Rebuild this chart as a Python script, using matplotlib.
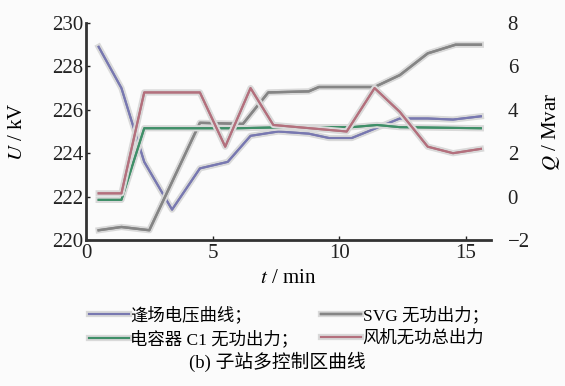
import matplotlib
matplotlib.use("Agg")
import matplotlib.pyplot as plt
import matplotlib.patheffects as pe

# ---- data ----
t_volt = [0.5, 1.4, 2.3, 3.4, 4.5, 5.6, 6.5, 7.6, 8.8, 9.6, 10.5, 12.4, 13.5, 14.5, 15.6]
u_volt = [228.9, 227.0, 223.6, 221.4, 223.3, 223.6, 224.8, 225.0, 224.9, 224.7, 224.7, 225.6, 225.6, 225.55, 225.7]

t_svg = [0.5, 1.4, 2.5, 4.5, 6.2, 7.2, 8.8, 9.2, 11.4, 12.4, 13.5, 14.6, 15.6]
q_svg = [-1.55, -1.4, -1.55, 3.4, 3.35, 4.8, 4.85, 5.05, 5.05, 5.6, 6.6, 7.0, 7.0]

t_c1 = [0.5, 1.4, 2.3, 6.0, 8.0, 10.5, 11.5, 12.4, 15.6]
q_c1 = [-0.15, -0.15, 3.15, 3.15, 3.2, 3.2, 3.3, 3.2, 3.15]

t_wind = [0.5, 1.4, 2.3, 4.5, 5.5, 6.5, 7.4, 10.3, 11.4, 12.4, 13.5, 14.5, 15.6]
q_wind = [0.15, 0.15, 4.8, 4.8, 2.3, 5.0, 3.3, 3.0, 5.0, 3.9, 2.3, 2.0, 2.2]

labels = ["逢场电压曲线；", "SVG 无功出力；", "电容器 C1 无功出力；", "风机无功总出力"]
x_ticks = [0, 5, 10, 15]
u_ticks = [220, 222, 224, 226, 228, 230]
q_ticks = [-2, 0, 2, 4, 6, 8]

FAM = ["Liberation Serif", "Noto Sans CJK SC"]
plt.rcParams["font.family"] = FAM
plt.rcParams["axes.unicode_minus"] = True
plt.rcParams["mathtext.fontset"] = "stix"

W, H = 565, 386
fig = plt.figure(figsize=(W / 100, H / 100), dpi=100, facecolor="#fbfbfb")
L, R, B, T = 86, 491, 240, 23
ax = fig.add_axes([L / W, 1 - B / H, (R - L) / W, (B - T) / H])
ax.set_facecolor("#fbfbfb")
ax2 = ax.twinx()

shadow = [pe.withStroke(linewidth=4.5, foreground="#d9d9d9"), pe.Normal()]

l1, = ax.plot(t_volt, u_volt, color="#7878b0", lw=1.5, path_effects=shadow, label=labels[0])
l2, = ax2.plot(t_svg, q_svg, color="#858585", lw=1.7, path_effects=shadow, label=labels[1])
l3, = ax2.plot(t_c1, q_c1, color="#3f8f68", lw=1.5, path_effects=shadow, label=labels[2])
l4, = ax2.plot(t_wind, q_wind, color="#b3707d", lw=1.5, path_effects=shadow, label=labels[3])

ax.set_xlim(0, 16)
ax.set_ylim(220, 230)
ax2.set_ylim(-2, 8)
ax.set_xticks(x_ticks)
ax.set_yticks(u_ticks)
ax2.set_yticks(q_ticks)

for a in (ax, ax2):
    for s in ("top", "right"):
        a.spines[s].set_visible(False)
ax2.spines["left"].set_visible(False)
ax2.spines["bottom"].set_visible(False)
ax.spines["left"].set_linewidth(2)
ax.spines["bottom"].set_linewidth(2)
ax.spines["left"].set_color("#333333")
ax.spines["bottom"].set_color("#333333")

ax.tick_params(axis="both", direction="in", length=3, width=1, labelsize=15, pad=2, colors="#222222")
ax.tick_params(axis="x", pad=3)
ax2.tick_params(axis="y", length=0, labelsize=15, pad=12, colors="#222222")

ax.set_xlabel("$t$ / min", fontsize=15, labelpad=4, family="Liberation Serif")
ax.set_ylabel("$U$ / kV", fontsize=15, family="Liberation Serif")
ax.yaxis.set_label_coords(-0.145, 0.5)
ax2.set_ylabel("$Q$ / Mvar", fontsize=15, family="Liberation Serif")
ax2.yaxis.set_label_coords(1.12, 0.5)

leg = fig.legend(handles=[l1, l3, l2, l4], labels=[labels[0], labels[2], labels[1], labels[3]],
                 ncol=2, loc="upper left", bbox_to_anchor=(80 / W, 1 - 298 / H),
                 frameon=False, handlelength=2.3,
                 handletextpad=0.1, columnspacing=1.3, labelspacing=0.35,
                 borderpad=0, prop={"family": FAM, "size": 12.5})

fig.text(277 / W, 1 - 362 / H, "(b) 子站多控制区曲线", ha="center", va="center",
         fontsize=13.5, family=FAM)

fig.savefig("out.png", dpi=100, facecolor=fig.get_facecolor())
